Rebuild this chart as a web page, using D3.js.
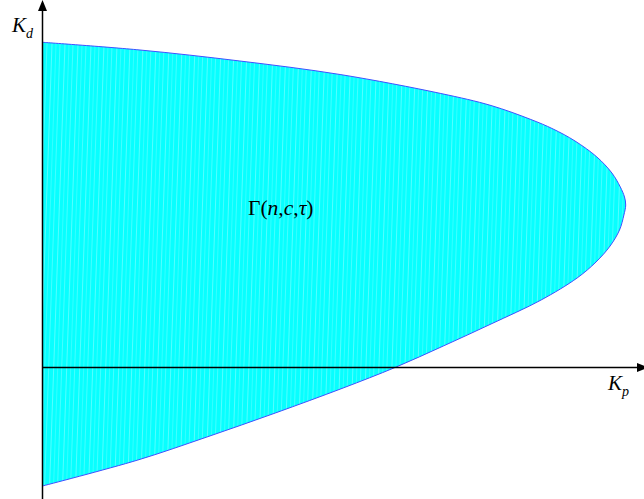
<!DOCTYPE html>
<html lang="en">
<head>
    <meta charset="UTF-8">
    <title>Gamma(n,c,tau) region</title>
    <script src="https://cdn.jsdelivr.net/npm/d3@7"></script>
    <style>
        body { margin: 0; background: #fff; }
        text { font-family: "Liberation Serif", "Times New Roman", serif; }
    </style>
</head>
<body>
<script>
    var width = 644;
    var height = 499;

    // boundary of the stable region (top-left -> right tip -> bottom-left)
    var kp = [0, 0.1625, 0.329, 0.496, 0.664, 0.7475, 0.814, 0.851, 0.8875, 0.924, 0.949, 0.963, 0.97, 0.972,
              0.969, 0.9617, 0.946, 0.9225, 0.891, 0.831, 0.7475, 0.668, 0.5875, 0.501, 0.388, 0.274, 0.159, 0];
    var kd = [3.252, 3.175, 3.065, 2.93, 2.74, 2.62, 2.48, 2.385, 2.265, 2.105, 1.945, 1.805, 1.705, 1.625,
              1.525, 1.375, 1.215, 1.055, 0.895, 0.675, 0.435, 0.215, 0, -0.205, -0.455, -0.695, -0.925, -1.185];

    var axisLabels = ["K", "K"];
    var axisSubs = ["d", "p"];

    var svg = d3.select("body")
            .append("svg")
            .attr("width", width)
            .attr("height", height);

    // scales: Kp 0..1 over 600px, Kd 1 unit = 100px, origin at (42.5, 367.5)
    var x = d3.scaleLinear().domain([0, 1]).range([42.5, 642.5]);
    var y = d3.scaleLinear().domain([0, 1]).range([367.5, 267.5]);

    var pts = kp.map(function (d, i) { return [d, kd[i]]; });

    // faint vertical streaks like the original fill
    var defs = svg.append("defs");
    var pat = defs.append("pattern")
            .attr("id", "streak")
            .attr("patternUnits", "userSpaceOnUse")
            .attr("width", 13)
            .attr("height", 60)
            .attr("patternTransform", "rotate(2)");
    pat.append("rect").attr("width", 13).attr("height", 60).attr("fill", "#08ffff");
    pat.append("rect").attr("x", 1).attr("width", 1).attr("height", 60).attr("fill", "#55ffff");
    pat.append("rect").attr("x", 5).attr("width", 1).attr("height", 60).attr("fill", "#35ffff");
    pat.append("rect").attr("x", 9).attr("width", 1).attr("height", 60).attr("fill", "#45ffff");

    var line = d3.line()
            .x(function (d) { return x(d[0]); })
            .y(function (d) { return y(d[1]); })
            .curve(d3.curveCatmullRom.alpha(0.5));

    svg.append("path")
            .attr("d", line(pts) + "Z")
            .attr("fill", "url(#streak)")
            .attr("stroke", "none");

    svg.append("path")
            .attr("d", line(pts))
            .attr("fill", "none")
            .attr("stroke", "#4050ff")
            .attr("stroke-width", 1);

    // axes
    svg.append("line")
            .attr("x1", x(0)).attr("y1", height)
            .attr("x2", x(0)).attr("y2", 8)
            .attr("stroke", "#000").attr("stroke-width", 1.5);
    svg.append("path")
            .attr("d", "M" + x(0) + ",0L" + (x(0) - 4.5) + ",11L" + (x(0) + 4.5) + ",11Z")
            .attr("fill", "#000");

    svg.append("line")
            .attr("x1", x(0)).attr("y1", y(0))
            .attr("x2", 638).attr("y2", y(0))
            .attr("stroke", "#000").attr("stroke-width", 1.5);
    svg.append("path")
            .attr("d", "M648," + y(0) + "L637," + (y(0) - 4.5) + "L637," + (y(0) + 4.5) + "Z")
            .attr("fill", "#000");

    // axis labels
    var kdLab = svg.append("text").attr("x", 12).attr("y", 32).attr("font-size", 21).attr("font-style", "italic");
    kdLab.append("tspan").text(axisLabels[0]);
    kdLab.append("tspan").attr("font-size", 14).attr("dy", 6).text(axisSubs[0]);

    var kpLab = svg.append("text").attr("x", 608).attr("y", 390).attr("font-size", 21).attr("font-style", "italic");
    kpLab.append("tspan").text(axisLabels[1]);
    kpLab.append("tspan").attr("font-size", 14).attr("dy", 6).text(axisSubs[1]);

    // region label
    var g = svg.append("text").attr("x", 248).attr("y", 215).attr("font-size", 21.5);
    g.append("tspan").text("Γ(");
    g.append("tspan").attr("font-style", "italic").text("n");
    g.append("tspan").text(",");
    g.append("tspan").attr("font-style", "italic").text("c");
    g.append("tspan").text(",");
    g.append("tspan").attr("font-style", "italic").text("τ");
    g.append("tspan").text(")");
</script>
</body>
</html>
